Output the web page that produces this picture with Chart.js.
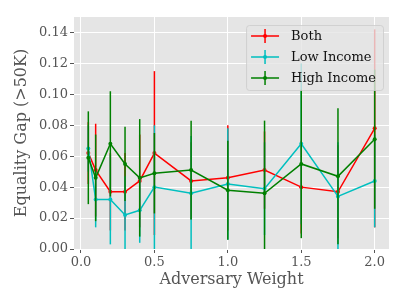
<!DOCTYPE html>
<html>
<head>
<meta charset="utf-8">
<script src="https://cdn.jsdelivr.net/npm/chart.js@4.4.1/dist/chart.umd.min.js"></script>
<style>
  html, body { margin: 0; padding: 0; background: #fff; }
</style>
</head>
<body>
<canvas id="gapChart" width="407" height="305"></canvas>
<script>
var weights = [0.05, 0.1, 0.2, 0.3, 0.4, 0.5, 0.75, 1.0, 1.25, 1.5, 1.75, 2.0];

var bothGap = [0.062, 0.051, 0.037, 0.037, 0.044, 0.062, 0.044, 0.046, 0.051, 0.040, 0.037, 0.078];
var bothErr = [0.020, 0.030, 0.025, 0.025, 0.030, 0.053, 0.025, 0.034, 0.025, 0.030, 0.030, 0.064];

var lowGap = [0.065, 0.032, 0.032, 0.022, 0.025, 0.040, 0.036, 0.042, 0.039, 0.068, 0.034, 0.044];
var lowErr = [0.015, 0.018, 0.029, 0.025, 0.021, 0.040, 0.037, 0.036, 0.030, 0.052, 0.035, 0.030];

var highGap = [0.059, 0.046, 0.068, 0.055, 0.046, 0.049, 0.051, 0.038, 0.036, 0.055, 0.047, 0.071];
var highErr = [0.030, 0.028, 0.034, 0.024, 0.038, 0.026, 0.032, 0.032, 0.047, 0.048, 0.044, 0.045];

var yTicks = [0, 0.02, 0.04, 0.06, 0.08, 0.10, 0.12, 0.14];
var xTicks = [0.0, 0.5, 1.0, 1.5, 2.0];

function points(vals) {
    return weights.map(function(w, i) { return { x: w, y: vals[i] }; });
}

function series(label, vals, errs, color, order) {
    return {
        label: label,
        data: points(vals),
        errors: errs,
        borderColor: color,
        backgroundColor: color,
        borderWidth: 1.5,
        pointRadius: 2,
        pointBorderWidth: 0,
        tension: 0,
        order: order
    };
}

var SERIF = "'DejaVu Serif', serif";

// grey panel behind the plot
var panelBg = {
    id: 'panelBg',
    beforeDraw: function(chart) {
        var a = chart.chartArea, ctx = chart.ctx;
        ctx.save();
        ctx.fillStyle = '#e5e5e5';
        ctx.fillRect(a.left, a.top, a.right - a.left, a.bottom - a.top);
        ctx.restore();
    }
};

// vertical error bars, drawn just before each line
var errorBars = {
    id: 'errorBars',
    beforeDatasetDraw: function(chart, args) {
        var ds = chart.data.datasets[args.index];
        var ys = chart.scales.y, ctx = chart.ctx, a = chart.chartArea;
        ctx.save();
        ctx.beginPath();
        ctx.rect(a.left, a.top, a.right - a.left, a.bottom - a.top);
        ctx.clip();
        ctx.strokeStyle = ds.borderColor;
        ctx.lineWidth = 1.5;
        args.meta.data.forEach(function(pt, i) {
            var v = ds.data[i].y, e = ds.errors[i];
            ctx.beginPath();
            ctx.moveTo(pt.x, ys.getPixelForValue(v - e));
            ctx.lineTo(pt.x, ys.getPixelForValue(v + e));
            ctx.stroke();
        });
        ctx.restore();
    }
};

// matplotlib-like legend box in the upper right corner
var boxLegend = {
    id: 'boxLegend',
    afterDraw: function(chart) {
        var ctx = chart.ctx, a = chart.chartArea;
        var sets = chart.data.datasets;
        ctx.save();
        ctx.font = '13px ' + SERIF;
        var maxW = 0;
        sets.forEach(function(ds) { maxW = Math.max(maxW, ctx.measureText(ds.label).width); });
        var w = 45 + maxW + 7, h = 65;
        var x0 = a.right - 6 - w, y0 = a.top + 8;
        ctx.fillStyle = 'rgba(229,229,229,0.8)';
        ctx.strokeStyle = 'rgba(204,204,204,0.8)';
        ctx.lineWidth = 1;
        ctx.beginPath();
        ctx.roundRect(x0 + 0.5, y0 + 0.5, w, h, 3);
        ctx.fill();
        ctx.stroke();
        sets.forEach(function(ds, i) {
            var cy = y0 + 11 + i * 21;
            var sx = x0 + 5, mid = sx + 14;
            ctx.strokeStyle = ds.borderColor;
            ctx.fillStyle = ds.borderColor;
            ctx.lineWidth = 1.5;
            ctx.beginPath();
            ctx.moveTo(sx, cy); ctx.lineTo(sx + 28, cy);
            ctx.moveTo(mid, cy - 7); ctx.lineTo(mid, cy + 7);
            ctx.stroke();
            ctx.beginPath();
            ctx.arc(mid, cy, 2, 0, Math.PI * 2);
            ctx.fill();
            ctx.fillStyle = '#111';
            ctx.textBaseline = 'middle';
            ctx.fillText(ds.label, x0 + 45, cy + 1);
        });
        ctx.restore();
    }
};

new Chart(document.getElementById('gapChart'), {
    type: 'line',
    data: {
        datasets: [
            series('Both', bothGap, bothErr, '#ff0000', 3),
            series('Low Income', lowGap, lowErr, '#00bfbf', 2),
            series('High Income', highGap, highErr, '#008000', 1)
        ]
    },
    options: {
        responsive: false,
        animation: false,
        devicePixelRatio: 1,
        layout: { padding: { top: 17, right: 18, bottom: 0, left: 0 } },
        plugins: {
            legend: { display: false },
            tooltip: { enabled: false }
        },
        scales: {
            x: {
                type: 'linear',
                min: -0.0475,
                max: 2.0975,
                afterFit: function(s) { s.height = 56; },
                afterBuildTicks: function(s) { s.ticks = xTicks.map(function(v) { return { value: v }; }); },
                border: { display: false },
                grid: { color: '#ffffff', lineWidth: 1, tickColor: '#555555', tickLength: 4 },
                ticks: {
                    color: '#555555',
                    font: { family: SERIF, size: 13 },
                    padding: 2,
                    callback: function(v) { return v.toFixed(1); }
                },
                title: {
                    display: true,
                    text: 'Adversary Weight',
                    color: '#555555',
                    font: { family: SERIF, size: 16 },
                    padding: { top: 0, bottom: 16 }
                }
            },
            y: {
                min: 0,
                max: 0.15,
                afterFit: function(s) { s.width = 74; },
                afterBuildTicks: function(s) { s.ticks = yTicks.map(function(v) { return { value: v }; }); },
                border: { display: false },
                grid: { color: '#ffffff', lineWidth: 1, tickColor: '#555555', tickLength: 4 },
                ticks: {
                    color: '#555555',
                    font: { family: SERIF, size: 13 },
                    padding: 2,
                    callback: function(v) { return v.toFixed(2); }
                },
                title: {
                    display: true,
                    text: 'Equality Gap (>50K)',
                    color: '#555555',
                    font: { family: SERIF, size: 16 },
                    padding: { top: 12, bottom: 0 }
                }
            }
        }
    },
    plugins: [panelBg, errorBars, boxLegend]
});
</script>
</body>
</html>
